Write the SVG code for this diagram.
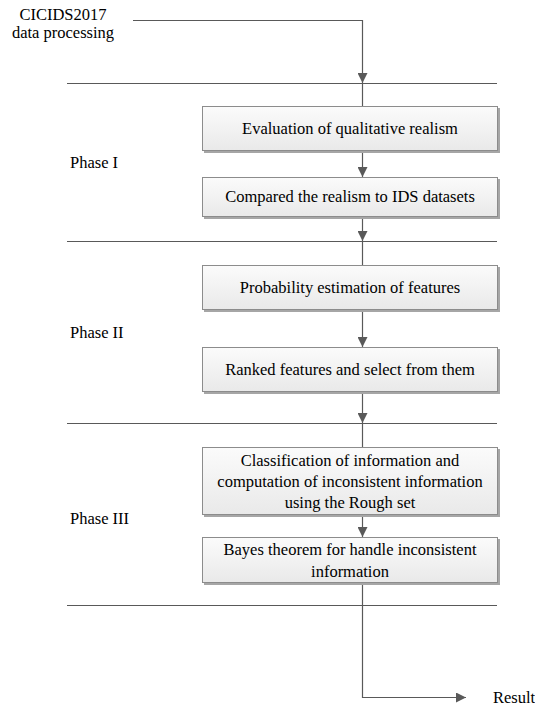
<svg xmlns="http://www.w3.org/2000/svg" width="535" height="713" viewBox="0 0 535 713">
<defs>
<linearGradient id="g" x1="0" y1="0" x2="0" y2="1">
<stop offset="0" stop-color="#fbfbfb"/>
<stop offset="1" stop-color="#e9e9e9"/>
</linearGradient>
<marker id="a" viewBox="0 0 10 10" refX="10" refY="5" markerWidth="10" markerHeight="10" markerUnits="userSpaceOnUse" orient="auto">
<path d="M0,0 L10,5 L0,10 z" fill="#595959"/>
</marker>
</defs>
<style>
.box{fill:url(#g);stroke:#8c8c8c;stroke-width:1}
.sh{fill:#a6a6a6}
.c{fill:none;stroke:#595959;stroke-width:1.2}
.sep{fill:none;stroke:#595959;stroke-width:1}
</style>
<rect width="535" height="713" fill="#fff"/>
<g id="labels">
<text x="63" y="20" font-family="Liberation Serif" font-size="16.5" text-anchor="middle">CICIDS2017</text>
<text x="63" y="38" font-family="Liberation Serif" font-size="16.5" text-anchor="middle">data processing</text>
<text x="70" y="168" font-family="Liberation Serif" font-size="16.5">Phase I</text>
<text x="70" y="338" font-family="Liberation Serif" font-size="16.5">Phase II</text>
<text x="70" y="524" font-family="Liberation Serif" font-size="16.5">Phase III</text>
<text x="493" y="703" font-family="Liberation Serif" font-size="16.5">Result</text>
</g>
<g id="separators">
<line class="sep" x1="67" y1="83.5" x2="497" y2="83.5"/>
<line class="sep" x1="67" y1="241.5" x2="497" y2="241.5"/>
<line class="sep" x1="67" y1="423.5" x2="497" y2="423.5"/>
<line class="sep" x1="67" y1="605.5" x2="497" y2="605.5"/>
</g>
<g id="connectors">
<path class="c" d="M133,20.5 H362.5 V83" marker-end="url(#a)"/>
<line class="c" x1="362.5" y1="83" x2="362.5" y2="106"/>
<line class="c" x1="362.5" y1="151" x2="362.5" y2="177" marker-end="url(#a)"/>
<line class="c" x1="362.5" y1="217" x2="362.5" y2="241" marker-end="url(#a)"/>
<line class="c" x1="362.5" y1="241" x2="362.5" y2="265"/>
<line class="c" x1="362.5" y1="310" x2="362.5" y2="347" marker-end="url(#a)"/>
<line class="c" x1="362.5" y1="392" x2="362.5" y2="423" marker-end="url(#a)"/>
<line class="c" x1="362.5" y1="423" x2="362.5" y2="447"/>
<line class="c" x1="362.5" y1="515" x2="362.5" y2="537" marker-end="url(#a)"/>
<path class="c" d="M362.5,583 V697.5 H466" marker-end="url(#a)"/>
</g>
<g id="n1">
<rect class="sh" x="204" y="108" width="296" height="45"/>
<rect class="box" x="202.5" y="106.5" width="295" height="44"/>
<text x="350" y="134" font-family="Liberation Serif" font-size="16.5" text-anchor="middle">Evaluation of qualitative realism</text>
</g>
<g id="n2">
<rect class="sh" x="204" y="179" width="296" height="40"/>
<rect class="box" x="202.5" y="177.5" width="295" height="39"/>
<text x="350" y="202" font-family="Liberation Serif" font-size="16.5" text-anchor="middle">Compared the realism to IDS datasets</text>
</g>
<g id="n3">
<rect class="sh" x="204" y="267" width="296" height="45"/>
<rect class="box" x="202.5" y="265.5" width="295" height="44"/>
<text x="350" y="293" font-family="Liberation Serif" font-size="16.5" text-anchor="middle">Probability estimation of features</text>
</g>
<g id="n4">
<rect class="sh" x="204" y="349" width="296" height="45"/>
<rect class="box" x="202.5" y="347.5" width="295" height="44"/>
<text x="350" y="375" font-family="Liberation Serif" font-size="16.5" text-anchor="middle">Ranked features and select from them</text>
</g>
<g id="n5">
<rect class="sh" x="204" y="449" width="296" height="68"/>
<rect class="box" x="202.5" y="447.5" width="295" height="67"/>
<text x="350" y="466" font-family="Liberation Serif" font-size="16.5" text-anchor="middle">Classification of information and</text>
<text x="350" y="487" font-family="Liberation Serif" font-size="16.5" text-anchor="middle">computation of inconsistent information</text>
<text x="350" y="508" font-family="Liberation Serif" font-size="16.5" text-anchor="middle">using the Rough set</text>
</g>
<g id="n6">
<rect class="sh" x="204" y="539" width="296" height="46"/>
<rect class="box" x="202.5" y="537.5" width="295" height="45"/>
<text x="350" y="555" font-family="Liberation Serif" font-size="16.5" text-anchor="middle">Bayes theorem for handle inconsistent</text>
<text x="350" y="577" font-family="Liberation Serif" font-size="16.5" text-anchor="middle">information</text>
</g>
</svg>
